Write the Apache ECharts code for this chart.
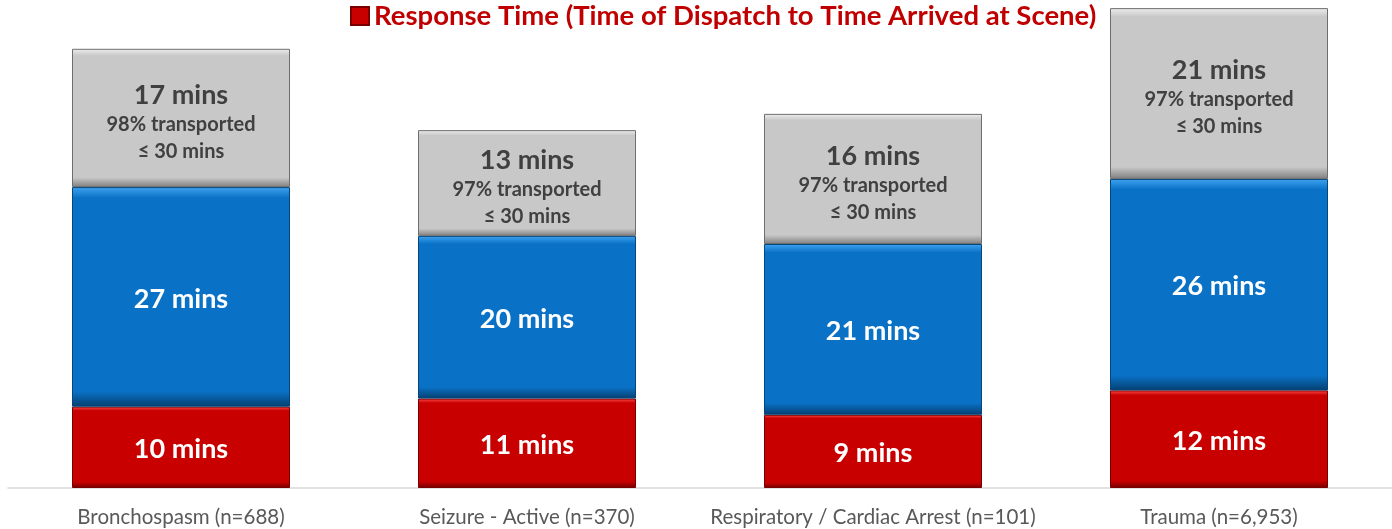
<!DOCTYPE html>
<html lang="en">
<head>
<meta charset="UTF-8">
<title>Response Time</title>
<script src="https://cdn.jsdelivr.net/npm/echarts@6/dist/echarts.min.js"></script>
<style>
    html, body { margin: 0; padding: 0; background: #fff; }
    #main { width: 1392px; height: 529px; }
</style>
</head>
<body>
<div id="main"></div>
<script type="text/javascript">
    // data
    var categories = ['Bronchospasm (n=688)', 'Seizure - Active (n=370)', 'Respiratory / Cardiac Arrest (n=101)', 'Trauma (n=6,953)'];
    var responseTime = [10, 11, 9, 12];
    var sceneTime = [27, 20, 21, 26];
    var transportTime = [17, 13, 16, 21];
    var pctTransported = [98, 97, 97, 97];

    var legendName = 'Response Time (Time of Dispatch to Time Arrived at Scene)';
    var font = 'Lato, "Open Sans", sans-serif';

    // bevel-ish look: light top edge, darker bottom edge
    function bevel(light, base, dark) {
        return {
            type: 'linear', x: 0, y: 0, x2: 0, y2: 1,
            colorStops: [
                { offset: 0, color: light },
                { offset: 0.05, color: base },
                { offset: 0.93, color: base },
                { offset: 1, color: dark }
            ]
        };
    }

    var myChart = echarts.init(document.getElementById('main'));

    var option = {
        animation: false,
        textStyle: { fontFamily: font },
        legend: {
            data: [legendName],
            left: 345,
            top: -3,
            icon: 'rect',
            itemWidth: 18,
            itemHeight: 18,
            itemGap: 6,
            textStyle: { color: '#c00000', fontSize: 27.5, fontWeight: 'bold', fontFamily: font }
        },
        grid: { left: 8, right: 0, top: 0, bottom: 41 },
        xAxis: {
            type: 'category',
            data: categories,
            axisTick: { show: false },
            axisLine: { lineStyle: { color: '#d9d9d9', width: 1.5 } },
            axisLabel: { color: '#595959', fontSize: 20.5, margin: 19, interval: 0, fontFamily: font }
        },
        yAxis: {
            type: 'value',
            min: 0,
            max: 60,
            show: false,
            splitLine: { show: false }
        },
        series: [
            {
                name: legendName,
                type: 'bar',
                stack: 'total',
                barWidth: 218,
                data: responseTime,
                itemStyle: {
                    color: bevel('#ff4a4a', '#c80000', '#6e0000'),
                    borderColor: '#7a0000',
                    borderWidth: 1
                },
                label: {
                    show: true,
                    position: 'inside',
                    offset: [0, 2],
                    formatter: '{c} mins',
                    color: '#fff',
                    fontSize: 27,
                    fontWeight: 'bold',
                    fontFamily: font
                }
            },
            {
                name: 'On Scene',
                type: 'bar',
                stack: 'total',
                barWidth: 218,
                data: sceneTime,
                itemStyle: {
                    color: bevel('#3fa3f0', '#0a72c6', '#053f70'),
                    borderColor: '#06467c',
                    borderWidth: 1
                },
                label: {
                    show: true,
                    position: 'inside',
                    offset: [0, 2],
                    formatter: '{c} mins',
                    color: '#fff',
                    fontSize: 27,
                    fontWeight: 'bold',
                    fontFamily: font
                }
            },
            {
                name: 'Transport',
                type: 'bar',
                stack: 'total',
                barWidth: 218,
                data: transportTime,
                itemStyle: {
                    color: bevel('#eeeeee', '#c8c8c8', '#7f7f7f'),
                    borderColor: '#6e6e6e',
                    borderWidth: 1
                },
                label: {
                    show: true,
                    position: 'inside',
                    offset: [0, 4],
                    formatter: function (p) {
                        return '{a|' + p.value + ' mins}\n{b|' + pctTransported[p.dataIndex] + '% transported}\n{b|≤ 30 mins}';
                    },
                    rich: {
                        a: { color: '#404040', fontSize: 27, fontWeight: 'bold', lineHeight: 32, fontFamily: font },
                        b: { color: '#404040', fontSize: 20, fontWeight: 'bold', lineHeight: 27, fontFamily: font }
                    }
                }
            }
        ]
    };

    myChart.setOption(option);
</script>
</body>
</html>
